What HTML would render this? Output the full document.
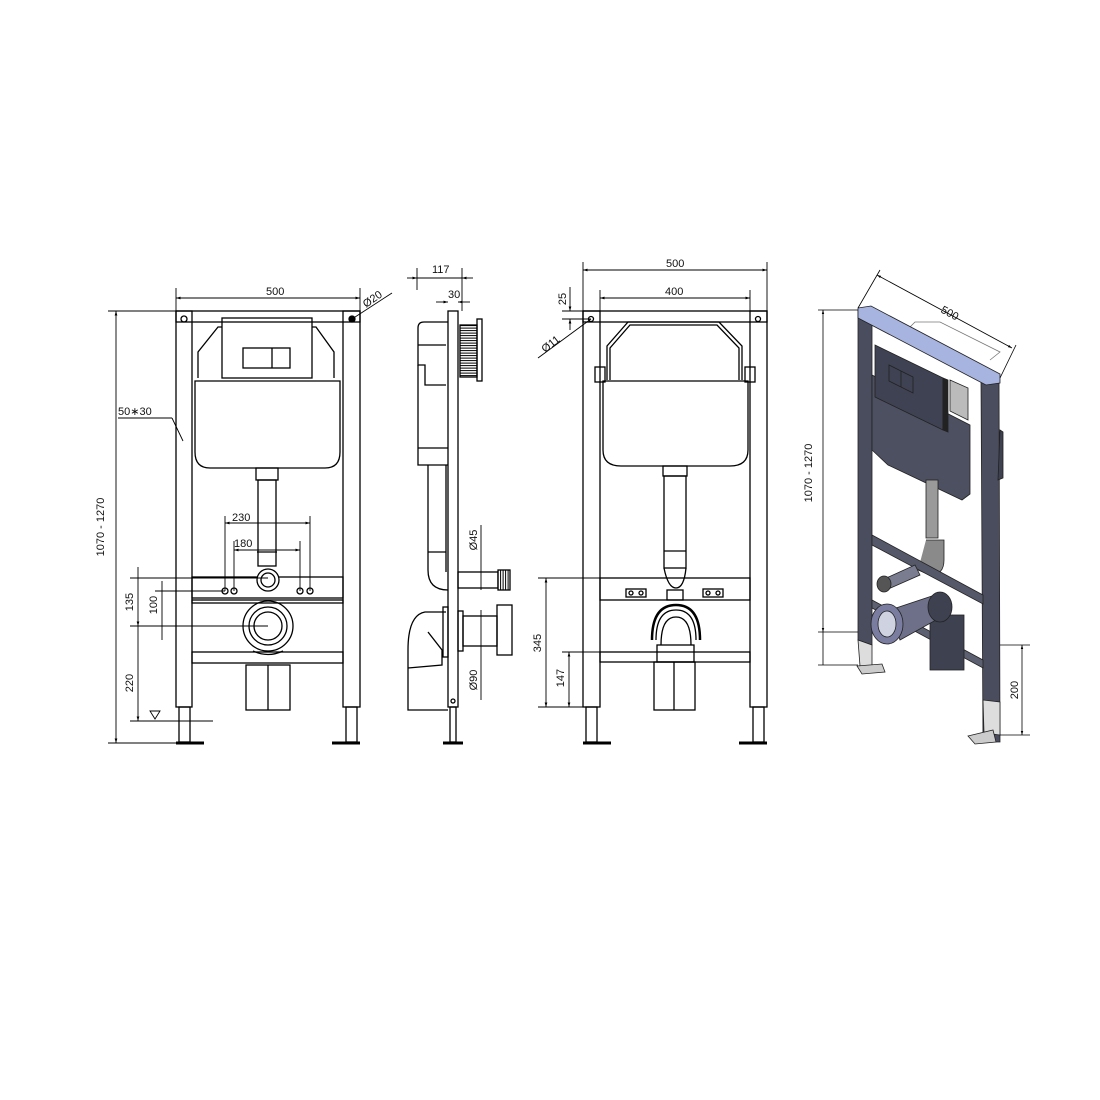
<!DOCTYPE html>
<html><head><meta charset="utf-8"><style>
html,body{margin:0;padding:0;background:#fff}
svg{display:block}
text{font-family:"Liberation Sans Narrow","Liberation Sans",sans-serif;font-size:11px;fill:#111}
</style></head><body>
<svg width="1100" height="1100" viewBox="0 0 1100 1100" xmlns="http://www.w3.org/2000/svg">
<defs>
<marker id="a" viewBox="0 0 10 10" refX="10" refY="5" markerWidth="7" markerHeight="5" orient="auto-start-reverse"><path d="M0,2 L10,5 L0,8z" fill="#000"/></marker>
<pattern id="th" width="4" height="2.5" patternUnits="userSpaceOnUse"><rect width="4" height="2.5" fill="#fff"/><line x1="0" y1="0.6" x2="4" y2="0.6" stroke="#000" stroke-width="1"/></pattern>
<pattern id="tv" width="2.5" height="4" patternUnits="userSpaceOnUse"><rect width="2.5" height="4" fill="#fff"/><line x1="0.6" y1="0" x2="0.6" y2="4" stroke="#000" stroke-width="1"/></pattern>
</defs>
<g stroke="#000" fill="none" stroke-width="1.3">
<!-- ===== VIEW 1 ===== -->
<rect x="176" y="311" width="184" height="11"/>
<rect x="176" y="311" width="16" height="396"/>
<rect x="343" y="311" width="17" height="396"/>
<rect x="179" y="707" width="11" height="35"/><rect x="346" y="707" width="11" height="35"/>
<line x1="176" y1="743" x2="204" y2="743" stroke-width="3"/><line x1="332" y1="743" x2="360" y2="743" stroke-width="3"/>
<circle cx="184" cy="319" r="3"/><circle cx="352" cy="319" r="3" fill="#000"/>
<path d="M198,378 V352 L218,327 H222 M334,378 V352 L316,327 H312"/>
<rect x="222" y="318" width="90" height="60"/>
<rect x="243" y="348" width="47" height="20"/><line x1="272" y1="348" x2="272" y2="368"/>
<path d="M195,381 H340 V452 Q340,468 325,468 H210 Q195,468 195,452 Z"/>
<rect x="256" y="468" width="22" height="12"/>
<rect x="258" y="480" width="18" height="86"/><line x1="257" y1="552" x2="277" y2="552"/>
<rect x="192" y="577" width="151" height="21"/>
<rect x="192" y="600" width="151" height="3"/>
<circle cx="268" cy="580" r="11" fill="#fff"/><circle cx="268" cy="580" r="7"/>
<circle cx="225" cy="591" r="3"/><circle cx="234" cy="591" r="3"/><circle cx="300" cy="591" r="3"/><circle cx="310" cy="591" r="3"/>
<circle cx="268" cy="626" r="25"/><circle cx="268" cy="626" r="19"/><circle cx="268" cy="626" r="14"/>
<rect x="192" y="652" width="151" height="11"/>
<path d="M253,651 Q268,658 283,651"/>
<rect x="246" y="665" width="44" height="45"/><line x1="268" y1="665" x2="268" y2="710"/>
<g stroke-width="0.9">
<line x1="176" y1="288" x2="176" y2="311"/><line x1="360" y1="288" x2="360" y2="311"/>
<line x1="176" y1="298" x2="360" y2="298" marker-start="url(#a)" marker-end="url(#a)"/>
<line x1="352" y1="319" x2="392" y2="293"/>
<line x1="108" y1="311" x2="176" y2="311"/><line x1="108" y1="743" x2="176" y2="743"/>
<line x1="116" y1="311" x2="116" y2="743" marker-start="url(#a)" marker-end="url(#a)"/>
<line x1="118" y1="418" x2="172" y2="418"/><line x1="172" y1="418" x2="183" y2="441"/>
<line x1="225" y1="516" x2="225" y2="591"/><line x1="310" y1="516" x2="310" y2="591"/>
<line x1="225" y1="523" x2="310" y2="523" marker-start="url(#a)" marker-end="url(#a)"/>
<line x1="234" y1="541" x2="234" y2="591"/><line x1="300" y1="541" x2="300" y2="591"/>
<line x1="234" y1="550" x2="300" y2="550" marker-start="url(#a)" marker-end="url(#a)"/>
<line x1="130" y1="578" x2="268" y2="578"/><line x1="155" y1="591" x2="225" y2="591"/>
<line x1="130" y1="626" x2="268" y2="626"/><line x1="130" y1="721" x2="213" y2="721"/>
<line x1="138" y1="567" x2="138" y2="626" marker-end="url(#a)"/>
<line x1="138" y1="626" x2="138" y2="721" marker-end="url(#a)"/>
<line x1="162" y1="581" x2="162" y2="640"/>
<path d="M150,711 H160 L155,719 Z"/>
</g>
<!-- ===== VIEW 2 ===== -->
<rect x="448" y="311" width="10" height="396"/>
<rect x="450" y="707" width="6" height="35"/><line x1="443" y1="743" x2="463" y2="743" stroke-width="3"/>
<circle cx="453" cy="701" r="2"/>
<path d="M448,322 H424 Q418,322 418,328 V365 H425 V385 H446"/>
<path d="M418,365 V465 H448"/><line x1="418" y1="448" x2="448" y2="448"/>
<path d="M418,345 H446"/>
<rect x="460" y="325" width="17" height="52" fill="url(#th)"/>
<rect x="477" y="319" width="5" height="62"/>
<path d="M428,465 V570 Q428,590 448,590 M446,465 V572"/>
<line x1="428" y1="552" x2="446" y2="552"/>
<rect x="458" y="572" width="40" height="16"/><rect x="498" y="570" width="12" height="20" fill="url(#tv)"/>
<rect x="458" y="611" width="5" height="40"/><rect x="463" y="616" width="34" height="30"/>
<rect x="497" y="605" width="15" height="50"/>
<path d="M446,612 H425 Q408,615 408,650 V710 H448 M428,632 L442,650 V665 L408,668"/>
<rect x="443" y="607" width="5" height="50"/>
<g stroke-width="0.9">
<line x1="417" y1="268" x2="417" y2="290"/><line x1="462" y1="268" x2="462" y2="311"/>
<line x1="407" y1="278" x2="417" y2="278" marker-end="url(#a)"/><line x1="473" y1="278" x2="462" y2="278" marker-end="url(#a)"/>
<line x1="417" y1="278" x2="462" y2="278"/>
<line x1="436" y1="302" x2="448" y2="302" marker-end="url(#a)"/><line x1="470" y1="302" x2="458" y2="302" marker-end="url(#a)"/>
<line x1="481" y1="525" x2="481" y2="590"/><line x1="481" y1="610" x2="481" y2="700"/>
</g>
<!-- ===== VIEW 3 ===== -->
<rect x="583" y="311" width="184" height="11"/>
<rect x="583" y="311" width="17" height="396"/>
<rect x="750" y="311" width="17" height="396"/>
<rect x="586" y="707" width="11" height="35"/><rect x="753" y="707" width="11" height="35"/>
<line x1="583" y1="743" x2="611" y2="743" stroke-width="3"/><line x1="739" y1="743" x2="767" y2="743" stroke-width="3"/>
<circle cx="591" cy="319" r="2.5"/><circle cx="758" cy="319" r="2.5"/>
<path d="M607,380 V346 L628,322 H719 L742,346 V380"/>
<path d="M610,380 V348 L630,325 H717 L739,348 V380"/>
<rect x="595" y="367" width="10" height="15"/><rect x="745" y="367" width="10" height="15"/>
<path d="M603,381 H748 V450 Q748,466 730,466 H621 Q603,466 603,450 Z"/>
<rect x="663" y="466" width="24" height="10"/>
<rect x="664" y="476" width="22" height="92"/><line x1="664" y1="551" x2="686" y2="551"/>
<path d="M664,568 Q668,588 676,588 Q684,588 686,568"/>
<rect x="600" y="578" width="150" height="22"/>
<rect x="626" y="589" width="20" height="8"/><rect x="703" y="589" width="20" height="8"/>
<circle cx="631" cy="593" r="2"/><circle cx="641" cy="593" r="2"/><circle cx="708" cy="593" r="2"/><circle cx="718" cy="593" r="2"/>
<rect x="667" y="590" width="16" height="10"/>
<path d="M652,640 Q652,605 676,605 Q700,605 700,640" stroke-width="2.5"/>
<path d="M656,640 Q656,610 676,610 Q696,610 696,640"/>
<path d="M661,645 Q661,617 676,617 Q691,617 691,645"/>
<rect x="657" y="645" width="37" height="17"/>
<rect x="600" y="652" width="150" height="10"/>
<rect x="654" y="662" width="41" height="48"/><line x1="674" y1="662" x2="674" y2="710"/>
<g stroke-width="0.9">
<line x1="583" y1="262" x2="583" y2="311"/><line x1="767" y1="262" x2="767" y2="311"/>
<line x1="583" y1="270" x2="767" y2="270" marker-start="url(#a)" marker-end="url(#a)"/>
<line x1="600" y1="290" x2="600" y2="311"/><line x1="750" y1="290" x2="750" y2="311"/>
<line x1="600" y1="298" x2="750" y2="298" marker-start="url(#a)" marker-end="url(#a)"/>
<line x1="562" y1="311" x2="583" y2="311"/><line x1="562" y1="319" x2="591" y2="319"/>
<line x1="570" y1="287" x2="570" y2="311" marker-end="url(#a)"/>
<line x1="570" y1="330" x2="570" y2="319" marker-end="url(#a)"/>
<line x1="591" y1="319" x2="538" y2="358"/>
<line x1="538" y1="578" x2="600" y2="578"/><line x1="538" y1="707" x2="583" y2="707"/>
<line x1="546" y1="578" x2="546" y2="707" marker-start="url(#a)" marker-end="url(#a)"/>
<line x1="562" y1="652" x2="600" y2="652"/>
<line x1="569" y1="652" x2="569" y2="707" marker-start="url(#a)" marker-end="url(#a)"/>
</g>
</g>
<!-- ===== VIEW 4 ISO ===== -->
<g stroke="#222" stroke-width="0.8">
<polygon points="981,380 999,380 999,378 1000,742 983,742" fill="#4a4d5e"/>
<polygon points="858,310 872,312 872,645 858,640" fill="#4a4d5e"/>
<polygon points="1000,430 1003,432 1003,478 998,480" fill="#3e4150"/>
<path d="M910,327 L915,322 H940 L1000,352 L990,360" fill="none" stroke="#777"/>
<polygon points="872,375 970,425 970,494 962,500 888,465 872,450" fill="#4d5060"/>
<polygon points="875,345 943,378 943,430 875,397" fill="#3f4252"/>
<polygon points="943,378 948,380 948,432 943,430" fill="#222"/>
<polygon points="950,380 968,388 968,420 950,411" fill="#bbb"/>
<polygon points="889,365 913,377 913,393 889,381" fill="none"/>
<line x1="901" y1="371" x2="901" y2="387"/>
<polygon points="858,308 871,306 1000,374 1000,383 986,385 858,318" fill="#a8b4e0"/>
<rect x="926" y="480" width="12" height="58" fill="#9a9a9a"/>
<path d="M926,540 H944 V560 Q944,575 930,575 L918,570" fill="#8a8a8a"/>
<polygon points="872,535 983,595 983,604 872,545" fill="#545868"/>
<polygon points="872,600 983,660 983,668 872,608" fill="#5c6070"/>
<polygon points="882,580 915,565 920,575 886,590" fill="#7a7d90"/>
<ellipse cx="884" cy="584" rx="7" ry="8" fill="#555"/>
<rect x="930" y="615" width="34" height="55" fill="#3e4150"/>
<polygon points="890,610 935,595 945,615 900,640" fill="#6d7088"/>
<ellipse cx="940" cy="607" rx="12" ry="15" fill="#3e4150"/>
<ellipse cx="887" cy="624" rx="16" ry="20" fill="#7a7da0"/>
<ellipse cx="887" cy="624" rx="9" ry="13" fill="#cfd2e0"/>
<polygon points="858,640 872,645 872,668 860,666" fill="#ddd"/>
<polygon points="857,666 882,664 885,672 862,674" fill="#ccc"/>
<polygon points="983,700 1000,702 1000,735 984,733" fill="#ddd"/>
<polygon points="968,736 993,730 996,742 975,744" fill="#ccc"/>
</g>
<g stroke="#000" stroke-width="0.8" fill="none">
<line x1="858" y1="308" x2="880" y2="270"/><line x1="1000" y1="378" x2="1016" y2="345"/>
<line x1="877" y1="275" x2="1012" y2="348" marker-start="url(#a)" marker-end="url(#a)"/>
<line x1="818" y1="310" x2="858" y2="310"/><line x1="818" y1="665" x2="858" y2="665"/>
<line x1="818" y1="632" x2="858" y2="632"/>
<line x1="823" y1="310" x2="823" y2="632" marker-start="url(#a)" marker-end="url(#a)"/>
<line x1="823" y1="632" x2="823" y2="665"/>
<line x1="1000" y1="645" x2="1030" y2="645"/><line x1="1000" y1="735" x2="1030" y2="735"/>
<line x1="1022" y1="645" x2="1022" y2="735" marker-start="url(#a)" marker-end="url(#a)"/>
</g>
<!-- TEXT -->
<text x="266" y="295">500</text>
<text x="366" y="308" transform="rotate(-35 366 308)">Ø20</text>
<text x="104" y="527" transform="rotate(-90 104 527)" text-anchor="middle">1070 - 1270</text>
<text x="118" y="415">50∗30</text>
<text x="232" y="521">230</text>
<text x="234" y="547">180</text>
<text x="133" y="602" transform="rotate(-90 133 602)" text-anchor="middle">135</text>
<text x="157" y="605" transform="rotate(-90 157 605)" text-anchor="middle">100</text>
<text x="133" y="683" transform="rotate(-90 133 683)" text-anchor="middle">220</text>
<text x="432" y="273">117</text>
<text x="448" y="298">30</text>
<text x="477" y="540" transform="rotate(-90 477 540)" text-anchor="middle">Ø45</text>
<text x="477" y="680" transform="rotate(-90 477 680)" text-anchor="middle">Ø90</text>
<text x="666" y="267">500</text>
<text x="665" y="295">400</text>
<text x="566" y="299" transform="rotate(-90 566 299)" text-anchor="middle">25</text>
<text x="545" y="353" transform="rotate(-38 545 353)">Ø11</text>
<text x="541" y="643" transform="rotate(-90 541 643)" text-anchor="middle">345</text>
<text x="564" y="678" transform="rotate(-90 564 678)" text-anchor="middle">147</text>
<text x="940" y="312" transform="rotate(28 940 312)">500</text>
<text x="812" y="473" transform="rotate(-90 812 473)" text-anchor="middle">1070 - 1270</text>
<text x="1018" y="690" transform="rotate(-90 1018 690)" text-anchor="middle">200</text>
</svg>
</body></html>
